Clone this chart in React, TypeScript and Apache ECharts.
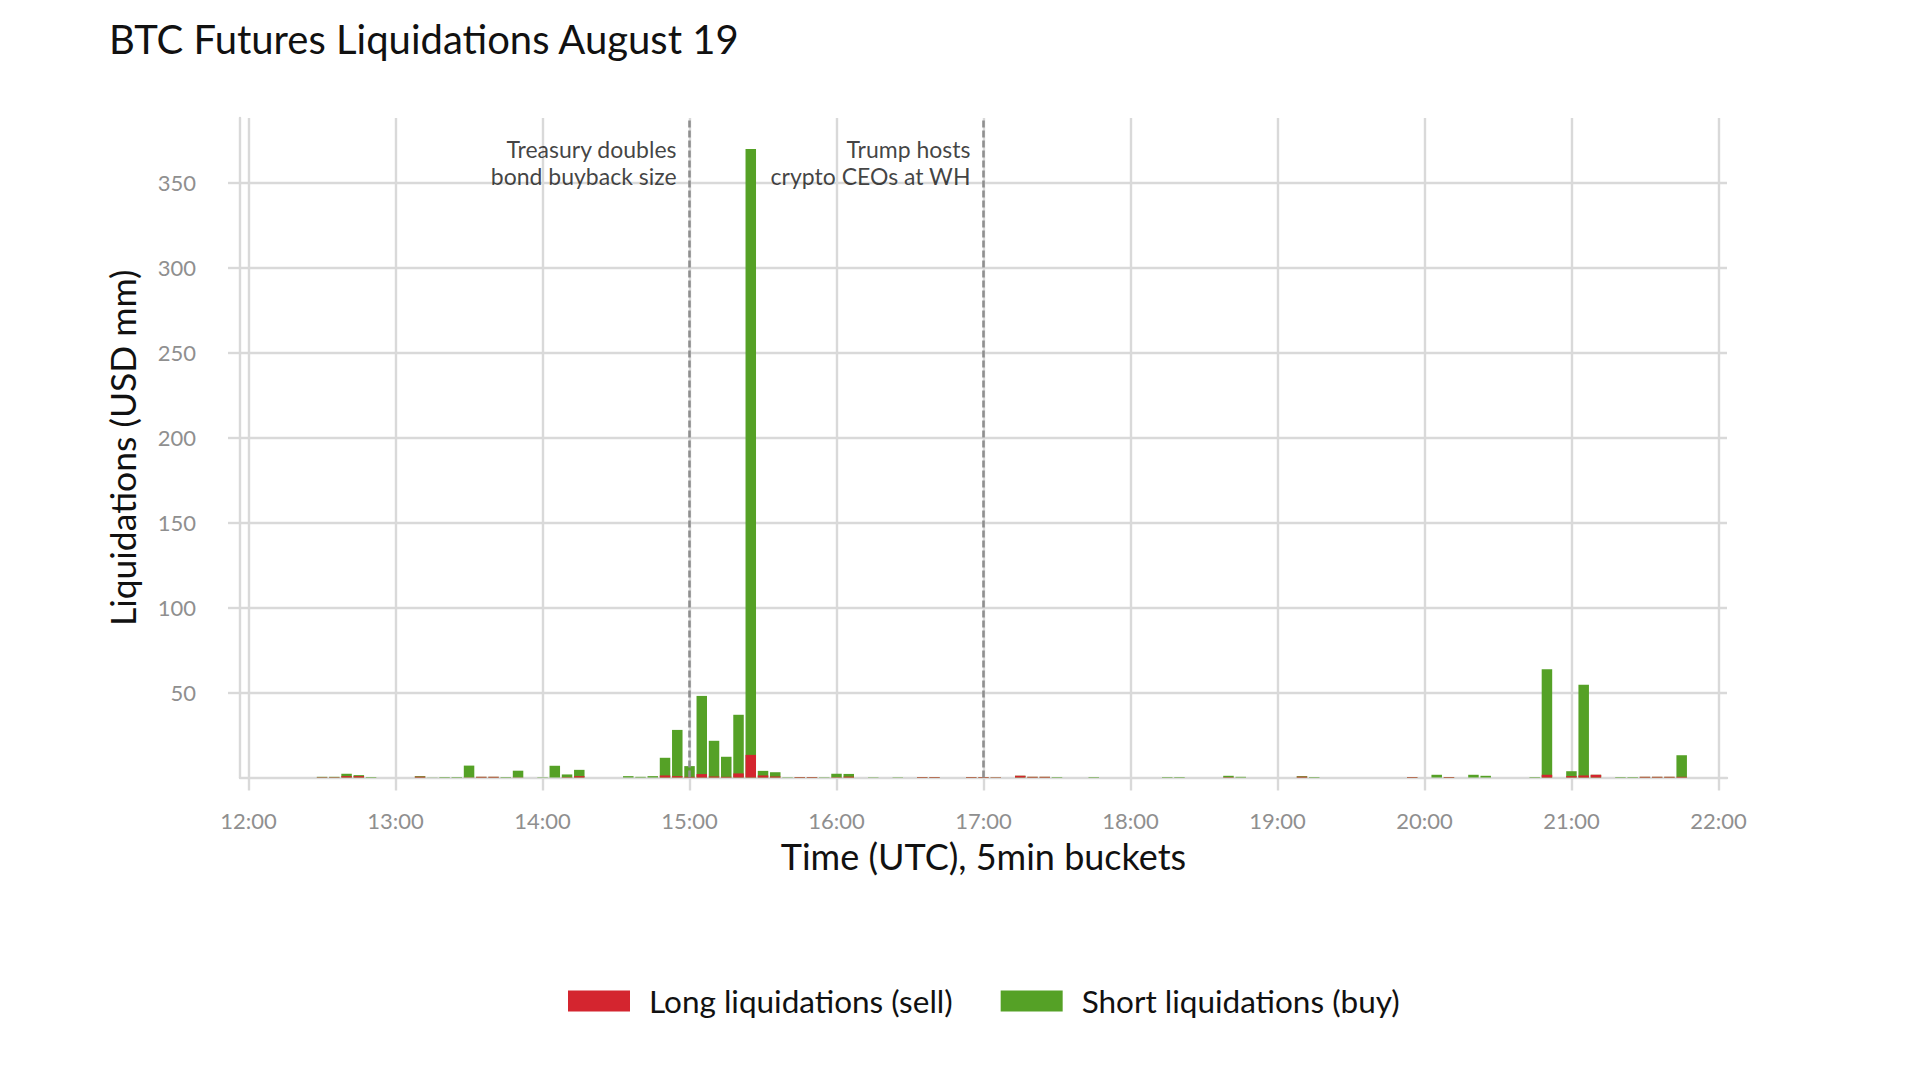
import React, { useEffect, useRef } from 'react';
import * as echarts from 'echarts';

const FONT = 'Lato, "Noto Sans", sans-serif';

// 5-minute bucket start times (UTC) that carry liquidations
const bucketTimes = [
  '12:30', '12:35', '12:40', '12:45', '12:50',
  '13:10', '13:15', '13:20', '13:25', '13:30', '13:35', '13:40', '13:45', '13:50',
  '14:00', '14:05', '14:10', '14:15', '14:35', '14:40', '14:45', '14:50', '14:55',
  '15:00', '15:05', '15:10', '15:15', '15:20', '15:25', '15:30', '15:35', '15:40', '15:45', '15:50', '15:55',
  '16:00', '16:05', '16:15', '16:25', '16:35', '16:40', '16:55',
  '17:00', '17:05', '17:15', '17:20', '17:25', '17:30', '17:45',
  '18:15', '18:20', '18:40', '18:45',
  '19:10', '19:15', '19:55',
  '20:05', '20:10', '20:20', '20:25', '20:45', '20:50',
  '21:00', '21:05', '21:10', '21:20', '21:25', '21:30', '21:35', '21:40', '21:45',
];

// Long liquidations (sell), USD mm
const longLiq = [
  0.2, 0.2, 0.8, 0.8, 0,
  0.5, 0, 0, 0, 0.1, 0.4, 0.4, 0, 0.1,
  0, 0, 0.2, 0.8, 0, 0, 0, 1.2, 0.8,
  0.4, 2.0, 0.6, 0.4, 2.4, 13.3, 1.2, 0.6, 0, 0.3, 0.3, 0,
  0.2, 0.5, 0, 0, 0.3, 0.3, 0.3,
  0.3, 0.2, 1.0, 0.4, 0.4, 0, 0,
  0, 0, 0.2, 0,
  0.5, 0, 0.3,
  0, 0.3, 0, 0, 0, 1.6,
  0.8, 1.2, 1.6, 0, 0, 0.4, 0.4, 0.4, 0.4,
];

// Short liquidations (buy), USD mm
const shortLiq = [
  0.2, 0.2, 1.4, 0.6, 0.3,
  0.3, 0.1, 0.3, 0.3, 6.9, 0, 0, 0.3, 3.9,
  0.2, 6.9, 1.6, 3.7, 0.8, 0.4, 0.8, 10.4, 27.2,
  6.3, 46.0, 21.0, 11.8, 34.5, 356.5, 2.7, 2.5, 0.2, 0, 0, 0.2,
  2.0, 1.6, 0.2, 0.2, 0, 0, 0,
  0, 0, 0, 0, 0, 0.3, 0.3,
  0.3, 0.3, 0.8, 0.4,
  0.3, 0.3, 0,
  1.6, 0, 1.6, 1.0, 0.3, 62.1,
  2.9, 53.3, 0, 0.3, 0.3, 0, 0, 0, 12.7,
];

const hourLabels = ['12:00', '13:00', '14:00', '15:00', '16:00', '17:00', '18:00', '19:00', '20:00', '21:00', '22:00'];
const yTickValues = [50, 100, 150, 200, 250, 300, 350];

const eventTimes = ['15:00', '17:00'];
const eventLabels = ['Treasury doubles\nbond buyback size', 'Trump hosts\ncrypto CEOs at WH'];
const eventLabelLevel = 362;

const seriesNames = ['Long liquidations (sell)', 'Short liquidations (buy)'];
const RED = '#d4252f';
const GREEN = '#55a126';
const GRID = '#d9d9d9';

const toMin = (t: string) => {
  const [h, m] = t.split(':').map(Number);
  return (h - 12) * 60 + m;
};
const fromMin = (v: number) => {
  const h = 12 + Math.floor(v / 60);
  const m = Math.round(v % 60);
  return `${h}:${m < 10 ? '0' + m : m}`;
};

export default function App() {
  const ref = useRef<HTMLDivElement>(null);
  useEffect(() => {
    document.body.style.margin = '0';
    const chart = echarts.init(ref.current!, null, { renderer: 'svg' });
    const gridLine = { color: GRID, width: 2.4 };
    // stacked bars: short sits on top of long, so the green bar reaches long + short
    const stackedTop = bucketTimes.map((t, i) => [toMin(t), +(longLiq[i] + shortLiq[i]).toFixed(2)]);
    const longBars = bucketTimes.map((t, i) => [toMin(t), longLiq[i]]);
    chart.setOption({
      animation: false,
      backgroundColor: '#ffffff',
      textStyle: { fontFamily: FONT },
      title: {
        text: 'BTC Futures Liquidations August 19',
        left: 104,
        top: 14,
        textStyle: { fontFamily: FONT, fontSize: 40, fontWeight: 'normal', color: '#111' },
      },
      grid: { left: 240, right: 193, top: 118, bottom: 302.5 },
      xAxis: {
        type: 'value',
        min: -3.5,
        max: 603.5,
        name: 'Time (UTC), 5min buckets',
        nameLocation: 'middle',
        nameGap: 60,
        nameTextStyle: { fontFamily: FONT, fontSize: 36, color: '#111' },
        axisLine: { show: true, onZero: false, lineStyle: gridLine },
        axisTick: { show: true, length: 13, customValues: hourLabels.map(toMin), lineStyle: gridLine },
        splitLine: { show: true, lineStyle: gridLine },
        axisLabel: {
          customValues: hourLabels.map(toMin),
          formatter: (v: number) => fromMin(v),
          color: '#8f8f8f',
          fontSize: 22,
          margin: 32,
          fontFamily: FONT,
        },
      },
      yAxis: {
        type: 'value',
        min: 0,
        max: 388,
        name: 'Liquidations (USD mm)',
        nameLocation: 'middle',
        nameGap: 100,
        nameTextStyle: { fontFamily: FONT, fontSize: 35.5, color: '#111' },
        axisLine: { show: true, onZero: false, lineStyle: gridLine },
        axisTick: { show: true, length: 12, customValues: yTickValues, lineStyle: gridLine },
        splitLine: { show: true, lineStyle: gridLine },
        axisLabel: {
          customValues: yTickValues,
          color: '#8f8f8f',
          fontSize: 22,
          margin: 44,
          fontFamily: FONT,
        },
      },
      legend: {
        data: seriesNames,
        left: 563,
        top: 980,
        itemWidth: 62,
        itemHeight: 21,
        itemGap: 48,
        icon: 'rect',
        textStyle: { fontFamily: FONT, fontSize: 31.5, color: '#111', padding: [0, 0, 0, 14] },
      },
      series: [
        {
          name: seriesNames[1],
          type: 'bar',
          barWidth: 10.5,
          barGap: '-100%',
          itemStyle: { color: GREEN },
          data: stackedTop,
          markLine: {
            silent: true,
            symbol: ['none', 'none'],
            label: { show: false },
            lineStyle: { type: [7, 3], color: '#8f8f8f', width: 2.6 },
            data: eventTimes.map((t) => ({ xAxis: toMin(t) })),
          },
        },
        {
          name: seriesNames[0],
          type: 'bar',
          barWidth: 10.5,
          barGap: '-100%',
          itemStyle: { color: RED },
          data: longBars,
        },
        {
          name: 'events',
          type: 'scatter',
          symbolSize: 0,
          silent: true,
          data: eventTimes.map((t, i) => ({
            value: [toMin(t), eventLabelLevel],
            label: { formatter: eventLabels[i] },
          })),
          label: {
            show: true,
            position: 'left',
            distance: 13,
            align: 'right',
            fontFamily: FONT,
            fontSize: 23,
            lineHeight: 27,
            color: '#111',
          },
        },
      ],
    });
    return () => chart.dispose();
  }, []);
  return <div ref={ref} style={{ width: 1920, height: 1080 }} />;
}
